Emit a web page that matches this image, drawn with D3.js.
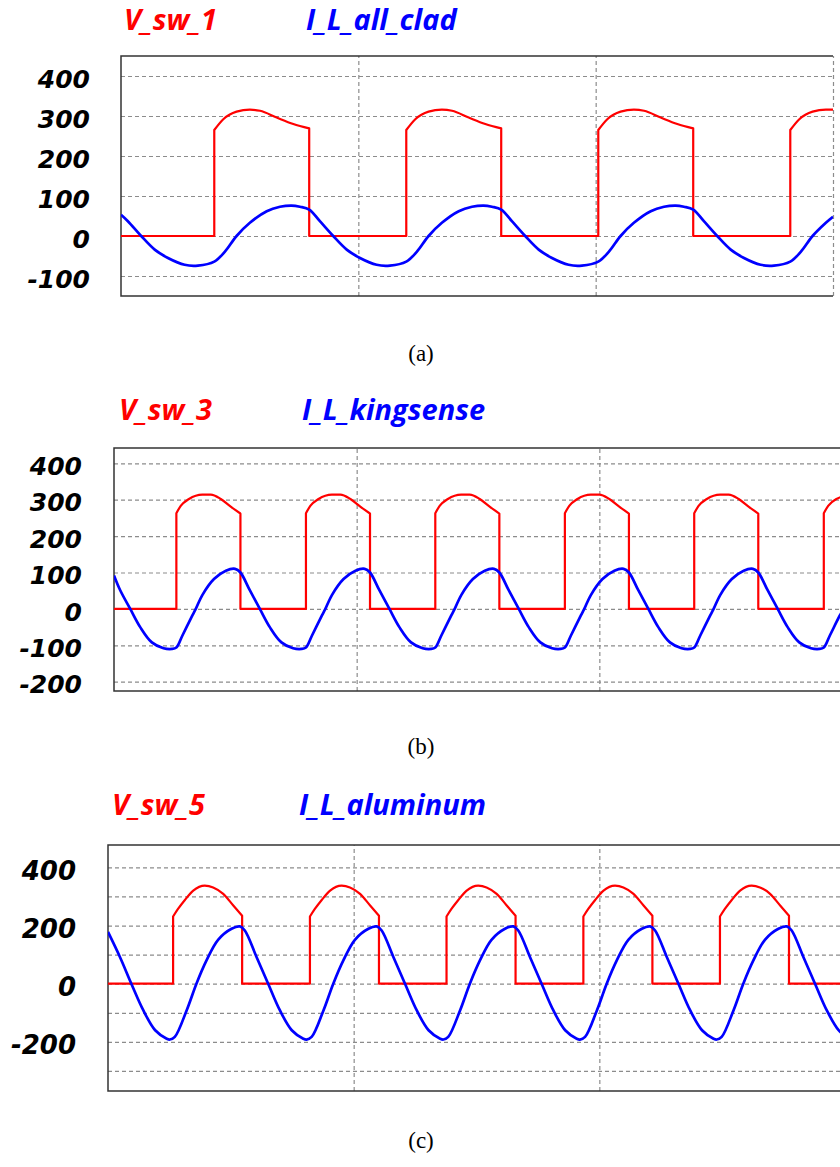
<!DOCTYPE html>
<html>
  <head>
    <meta charset="utf-8">
    <title>Switch voltage and inductor current</title>
    <script src="https://cdn.jsdelivr.net/npm/d3@7"></script>
    <style>
      body { margin: 0; background: #fff; }
    </style>
  </head>
  <body>
    <svg width="840" height="1167" id="mainsvg"></svg>
    <script>
        // time in us (one grid division = 10 us), values in V / A
        const vSw1 = [[0,0],[3.93,0],[3.93,265],[4.31,292],[4.87,311],[5.43,316],[5.86,313],[6.56,296],[7.26,280],[7.93,269],[7.93,0],
          [12.02,0],[12.02,265],[12.40,292],[12.96,311],[13.52,316],[13.95,313],[14.65,296],[15.35,280],[16.02,269],[16.02,0],
          [20.11,0],[20.11,265],[20.49,292],[21.05,311],[21.61,316],[22.04,313],[22.74,296],[23.44,280],[24.11,269],[24.11,0],
          [28.20,0],[28.20,265],[28.58,292],[29.14,311],[29.70,316],[30,316]];
        const iAllClad = [[0,53],[0.29,37],[0.85,0],[1.42,-34],[1.98,-55],[2.68,-72],[3.24,-74],[3.93,-64],
          [4.38,-39],[4.87,0],[5.43,33],[6.14,62],[6.70,73],[7.19,76],[7.54,73],[7.93,66],[8.38,37],[8.94,0],[9.51,-34],[10.07,-55],[10.77,-72],[11.33,-74],[12.02,-64],
          [12.47,-39],[12.96,0],[13.52,33],[14.23,62],[14.79,73],[15.28,76],[15.63,73],[16.02,66],[16.47,37],[17.03,0],[17.60,-34],[18.16,-55],[18.86,-72],[19.42,-74],[20.11,-64],
          [20.56,-39],[21.05,0],[21.61,33],[22.32,62],[22.88,73],[23.37,76],[23.72,73],[24.11,66],[24.56,37],[25.12,0],[25.69,-34],[26.25,-55],[26.95,-72],[27.51,-74],[28.20,-64],
          [28.65,-39],[29.14,0],[29.70,33],[30,48]];

        const vSw3 = [[0,0],[2.57,0],[2.57,263],[2.75,283],[3.09,302],[3.64,314],[3.99,314],[4.40,302],[4.81,281],[5.21,262],[5.21,0],
          [7.91,0],[7.91,263],[8.09,283],[8.43,302],[8.98,314],[9.33,314],[9.74,302],[10.15,281],[10.55,262],[10.55,0],
          [13.24,0],[13.24,263],[13.42,283],[13.76,302],[14.31,314],[14.66,314],[15.07,302],[15.48,281],[15.88,262],[15.88,0],
          [18.58,0],[18.58,263],[18.76,283],[19.10,302],[19.65,314],[20.00,314],[20.41,302],[20.82,281],[21.22,262],[21.22,0],
          [23.91,0],[23.91,263],[24.09,283],[24.43,302],[24.98,314],[25.33,314],[25.74,302],[26.15,281],[26.55,262],[26.55,0],
          [29.25,0],[29.25,263],[29.43,283],[29.77,302],[30,308]];
        const iKingsense = [[0,92],[0.25,52],[0.67,0],[1.08,-50],[1.56,-92],[2.04,-108],[2.39,-110],[2.57,-106],
          [2.82,-73],[3.23,-18],[3.37,0],[3.64,38],[4.12,82],[4.61,105],[4.99,110],[5.21,100],[5.59,52],[6.01,0],[6.42,-50],[6.90,-92],[7.38,-108],[7.73,-110],[7.91,-106],
          [8.16,-73],[8.57,-18],[8.71,0],[8.98,38],[9.46,82],[9.95,105],[10.33,110],[10.55,100],[10.93,52],[11.35,0],[11.76,-50],[12.24,-92],[12.72,-108],[13.07,-110],[13.24,-106],
          [13.49,-73],[13.90,-18],[14.04,0],[14.31,38],[14.79,82],[15.28,105],[15.66,110],[15.88,100],[16.26,52],[16.68,0],[17.09,-50],[17.57,-92],[18.05,-108],[18.40,-110],[18.58,-106],
          [18.83,-73],[19.24,-18],[19.38,0],[19.65,38],[20.13,82],[20.62,105],[21.00,110],[21.22,100],[21.60,52],[22.02,0],[22.43,-50],[22.91,-92],[23.39,-108],[23.74,-110],[23.91,-106],
          [24.16,-73],[24.57,-18],[24.71,0],[24.98,38],[25.46,82],[25.95,105],[26.33,110],[26.55,100],[26.93,52],[27.35,0],[27.76,-50],[28.24,-92],[28.72,-108],[29.07,-110],[29.25,-106],
          [29.50,-73],[29.91,-18],[30,-8]];

        const vSw5 = [[0,0],[2.65,0],[2.65,231],[2.85,257],[3.13,288],[3.47,320],[3.94,337],[4.28,331],[4.69,309],[5.10,269],[5.46,234],[5.46,0],
          [8.22,0],[8.22,231],[8.42,257],[8.70,288],[9.04,320],[9.51,337],[9.85,331],[10.26,309],[10.67,269],[11.03,234],[11.03,0],
          [13.78,0],[13.78,231],[13.98,257],[14.26,288],[14.60,320],[15.07,337],[15.41,331],[15.82,309],[16.23,269],[16.59,234],[16.59,0],
          [19.35,0],[19.35,231],[19.55,257],[19.83,288],[20.17,320],[20.64,337],[20.98,331],[21.39,309],[21.80,269],[22.16,234],[22.16,0],
          [24.91,0],[24.91,231],[25.11,257],[25.39,288],[25.73,320],[26.20,337],[26.54,331],[26.95,309],[27.36,269],[27.72,234],[27.72,0],[30,0]];
        const iAluminum = [[0,178],[0.49,91],[0.95,0],[1.44,-92],[1.92,-160],[2.39,-189],[2.52,-192],
          [2.72,-183],[3.20,-92],[3.60,0],[4.01,80],[4.48,151],[5.03,189],[5.37,197],[5.57,183],[6.05,91],[6.52,0],[7.00,-92],[7.48,-160],[7.95,-189],[8.08,-192],
          [8.29,-183],[8.77,-92],[9.17,0],[9.58,80],[10.05,151],[10.60,189],[10.94,197],[11.14,183],[11.62,91],[12.09,0],[12.57,-92],[13.05,-160],[13.52,-189],[13.65,-192],
          [13.85,-183],[14.33,-92],[14.73,0],[15.14,80],[15.61,151],[16.16,189],[16.50,197],[16.70,183],[17.18,91],[17.65,0],[18.13,-92],[18.61,-160],[19.08,-189],[19.21,-192],
          [19.42,-183],[19.90,-92],[20.30,0],[20.71,80],[21.18,151],[21.73,189],[22.07,197],[22.27,183],[22.75,91],[23.22,0],[23.70,-92],[24.18,-160],[24.65,-189],[24.78,-192],
          [24.98,-183],[25.46,-92],[25.86,0],[26.27,80],[26.74,151],[27.29,189],[27.63,197],[27.83,183],[28.31,91],[28.78,0],[29.26,-92],[29.74,-160],[30,-178]];

        const timeDomain = [0, 30];
        const timeGrid = [10, 20, 30];
        const gridA = [400, 300, 200, 100, 0, -100];
        const gridB = [400, 300, 200, 100, 0, -100, -200];
        const gridC = [400, 300, 200, 100, 0, -100, -200, -300];
        const labelsC = [400, 200, 0, -200];

        const panels = [
          {vName: 'V_sw_1', iName: 'I_L_all_clad', v: vSw1, i: iAllClad, caption: '(a)',
           yDomain: [-150, 450], grid: gridA, labels: gridA,
           left: 121, right: 833, top: 56, bottom: 296, labelRight: 90, tickSize: 25,
           vx: 124, ix: 306, titleY: 30, capY: 361},
          {vName: 'V_sw_3', iName: 'I_L_kingsense', v: vSw3, i: iKingsense, caption: '(b)',
           yDomain: [-225.5, 442], grid: gridB, labels: gridB,
           left: 114, right: 842, top: 448, bottom: 691, labelRight: 82, tickSize: 25,
           vx: 119, ix: 302, titleY: 420, capY: 754},
          {vName: 'V_sw_5', iName: 'I_L_aluminum', v: vSw5, i: iAluminum, caption: '(c)',
           yDomain: [-369, 477], grid: gridC, labels: labelsC,
           left: 108, right: 845, top: 845, bottom: 1091, labelRight: 76, tickSize: 26,
           vx: 112, ix: 299, titleY: 815, capY: 1148}
        ];

        const svg = d3.select('#mainsvg');
        svg.append('rect').attr('width', 840).attr('height', 1167).attr('fill', '#fff');

        panels.forEach((p, k) => {
          const xScale = d3.scaleLinear().domain(timeDomain).range([p.left, p.right]);
          const yScale = d3.scaleLinear().domain(p.yDomain).range([p.bottom, p.top]);
          const w = p.right - p.left, h = p.bottom - p.top;
          const g = svg.append('g');

          // dashed grid
          const hGrid = g.append('g').attr('transform', `translate(${p.left},0)`)
            .call(d3.axisLeft(yScale).tickValues(p.grid).tickSize(-w).tickFormat(''));
          const vGrid = g.append('g').attr('transform', `translate(0,${p.bottom})`)
            .call(d3.axisBottom(xScale).tickValues(timeGrid).tickSize(-h).tickFormat(''));
          [hGrid, vGrid].forEach(a => {
            a.select('.domain').remove();
            a.selectAll('line').attr('stroke', '#8c8c8c').attr('stroke-width', 1.2)
              .attr('stroke-dasharray', '4,3');
          });

          // frame (right side of the capture is cut off)
          g.append('path')
            .attr('d', `M${p.right},${p.top}H${p.left}V${p.bottom}H${p.right}`)
            .attr('fill', 'none').attr('stroke', '#333').attr('stroke-width', 1.5);

          // tick labels
          const yAxis = g.append('g').attr('transform', `translate(${p.left},0)`)
            .call(d3.axisLeft(yScale).tickValues(p.labels).tickSize(0)
              .tickPadding(p.left - p.labelRight).tickFormat(d => String(d)));
          yAxis.select('.domain').remove();
          yAxis.selectAll('text')
            .attr('font-family', 'DejaVu Sans').attr('font-weight', 'bold')
            .attr('font-style', 'italic').attr('font-size', p.tickSize)
            .attr('fill', '#000').attr('dy', '0.45em');

          // waveforms
          const clipId = 'clip' + k;
          svg.append('clipPath').attr('id', clipId).append('rect')
            .attr('x', p.left).attr('y', p.top).attr('width', w).attr('height', h);
          const line = d3.line().x(d => xScale(d[0])).y(d => yScale(d[1])).curve(d3.curveMonotoneX);
          const smooth = d3.line().x(d => xScale(d[0])).y(d => yScale(d[1])).curve(d3.curveCatmullRom.alpha(0.5));
          // split at vertical edges, smooth each run, join them with straight edges
          const stepPath = pts => {
            const runs = [[pts[0]]];
            for (let j = 1; j < pts.length; j++) {
              if (pts[j][0] === pts[j - 1][0]) runs.push([pts[j]]);
              else runs[runs.length - 1].push(pts[j]);
            }
            return runs.map((r, j) => {
              const s = r.length > 1 ? line(r) : `M${xScale(r[0][0])},${yScale(r[0][1])}`;
              return j ? 'L' + s.slice(1) : s;
            }).join('');
          };
          const lines = g.append('g').attr('clip-path', `url(#${clipId})`);
          lines.append('path').attr('d', stepPath(p.v))
            .attr('fill', 'none').attr('stroke', '#ff0000').attr('stroke-width', 2.2)
            .attr('stroke-linejoin', 'round');
          lines.append('path').attr('d', smooth(p.i))
            .attr('fill', 'none').attr('stroke', '#0000ff').attr('stroke-width', 2.7)
            .attr('stroke-linejoin', 'round');

          // titles
          const titles = [{t: p.vName, x: p.vx, c: '#ff0000'}, {t: p.iName, x: p.ix, c: '#0000ff'}];
          g.selectAll('.title').data(titles).join('text').attr('class', 'title')
            .attr('x', d => d.x).attr('y', p.titleY).text(d => d.t)
            .attr('fill', d => d.c)
            .attr('font-family', 'Open Sans').attr('font-weight', 'bold')
            .attr('font-style', 'italic').attr('font-size', 29);

          // caption
          g.append('text').attr('x', 421).attr('y', p.capY).attr('text-anchor', 'middle')
            .attr('font-family', 'Liberation Serif').attr('font-size', 23).attr('fill', '#000')
            .text(p.caption);
        });
    </script>
  </body>
</html>
